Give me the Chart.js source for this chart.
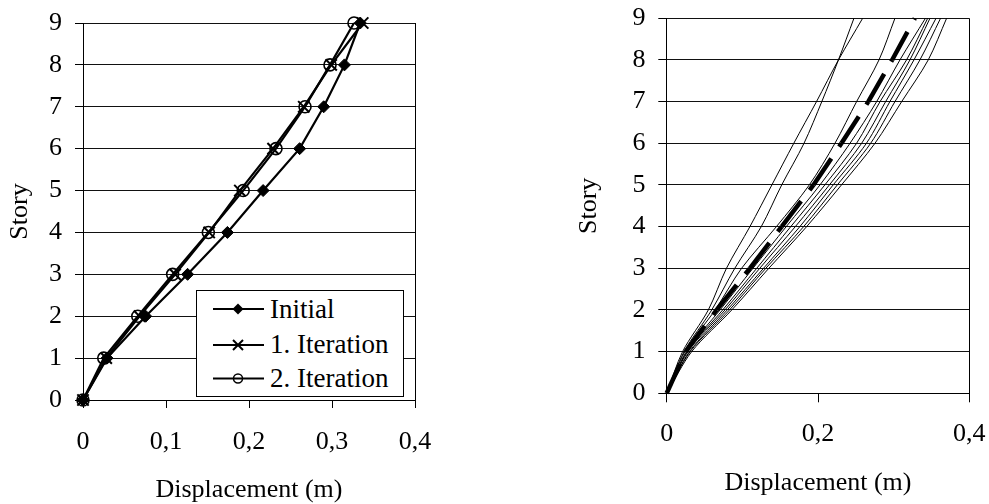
<!DOCTYPE html>
<html><head><meta charset="utf-8">
<script src="https://cdn.jsdelivr.net/npm/chart.js@4.4.1/dist/chart.umd.min.js"></script>
<style>
html,body{margin:0;padding:0;background:#fff;}
body{width:989px;height:504px;position:relative;overflow:hidden;}
#c1{position:absolute;left:0;top:0;}
#c2{position:absolute;left:569px;top:0;}
#legend{position:absolute;left:0;top:0;pointer-events:none;}
</style></head><body>
<canvas id="c1" width="480" height="504"></canvas>
<canvas id="c2" width="420" height="504"></canvas>
<svg id="legend" width="989" height="504">
  <rect x="196.5" y="290.5" width="207" height="106" fill="#fff" stroke="#000" stroke-width="1"/>
  <line x1="213" y1="309" x2="264" y2="309" stroke="#000" stroke-width="2"/>
  <polygon points="238,303.5 243.5,309 238,314.5 232.5,309" fill="#000"/>
  <text x="270" y="318.3" font-family="'Liberation Serif','Times New Roman',serif" font-size="27" fill="#000">Initial</text>
  <line x1="213" y1="345" x2="264" y2="345" stroke="#000" stroke-width="2"/>
  <line x1="233" y1="340" x2="243" y2="350" stroke="#000" stroke-width="2"/>
  <line x1="233" y1="350" x2="243" y2="340" stroke="#000" stroke-width="2"/>
  <text x="270" y="352.7" font-family="'Liberation Serif','Times New Roman',serif" font-size="27" fill="#000">1. Iteration</text>
  <line x1="213" y1="378.5" x2="264" y2="378.5" stroke="#000" stroke-width="2"/>
  <circle cx="238" cy="378.5" r="4.5" fill="none" stroke="#000" stroke-width="1.5"/>
  <text x="270" y="387.3" font-family="'Liberation Serif','Times New Roman',serif" font-size="27" fill="#000">2. Iteration</text>
</svg>
<script>
// ---- data ----
const stories = [0, 1, 2, 3, 4, 5, 6, 7, 8, 9];
const initialDisp = [0, 0.029, 0.0755, 0.126, 0.174, 0.217, 0.261, 0.290, 0.315, 0.334];
const iter1Disp   = [0, 0.028, 0.068, 0.111, 0.152, 0.189, 0.229, 0.266, 0.299, 0.337];
const iter2Disp   = [0, 0.025, 0.066, 0.108, 0.151, 0.193, 0.2325, 0.2675, 0.2976, 0.3265];

const meanDisp = [0, 0.025, 0.066, 0.110, 0.152, 0.194, 0.231, 0.2665, 0.298, 0.328];
const recP = [0, 0.021, 0.055, 0.079, 0.110, 0.139, 0.168, 0.198, 0.227, 0.259];
const recQ = [0, 0.023, 0.0595, 0.090, 0.125, 0.152, 0.1815, 0.205, 0.227, 0.2475];
const recC = [0, 0.024, 0.064, 0.099, 0.145, 0.1885, 0.2224, 0.251, 0.2806, 0.3017];
const recD = [0, 0.026, 0.0705, 0.114, 0.158, 0.2026, 0.2423, 0.2775, 0.3083, 0.342];
const recE = [0, 0.027, 0.074, 0.119, 0.164, 0.209, 0.251, 0.282, 0.317, 0.345];
const recF = [0, 0.028, 0.077, 0.123, 0.170, 0.215, 0.2577, 0.2894, 0.3215, 0.348];
const recG = [0, 0.030, 0.080, 0.128, 0.176, 0.220, 0.264, 0.295, 0.3268, 0.356];
const recH = [0, 0.031, 0.083, 0.131, 0.181, 0.2255, 0.2696, 0.3017, 0.3347, 0.362];
const recI = [0, 0.033, 0.086, 0.135, 0.185, 0.231, 0.2753, 0.3106, 0.3457, 0.370];
const records = [recP, recQ, recC, recD, recE, recF, recG, recH, recI];

const yTicks = [0, 1, 2, 3, 4, 5, 6, 7, 8, 9];
const yLabels = ['0', '1', '2', '3', '4', '5', '6', '7', '8', '9'];
const leftXTicks = [0, 0.1, 0.2, 0.3, 0.4];
const leftXLabels = ['0', '0,1', '0,2', '0,3', '0,4'];
const rightXTicks = [0, 0.2, 0.4];
const rightXLabels = ['0', '0,2', '0,4'];

// ---- setup ----
const serif = "'Liberation Serif', 'Times New Roman', serif";
Chart.defaults.font.family = serif;
Chart.defaults.color = '#000';
const toPts = arr => arr.map((x, i) => ({x: x, y: stories[i]}));
const noPad = s => { s.paddingTop = 0; s.paddingBottom = 0; s.paddingLeft = 0; s.paddingRight = 0; };

function xScale(ticksArr, labelsArr, tickLen, pad, titlePad, height) {
  return {
    type: 'linear', min: 0, max: 0.4,
    afterBuildTicks: s => { s.ticks = ticksArr.map(v => ({value: v})); },
    ticks: { callback: (v, i) => labelsArr[i], font: {size: 26, lineHeight: 1}, color: '#000',
             padding: pad, maxRotation: 0, autoSkip: false },
    grid: { color: c => (c.tick && Math.abs(c.tick.value - 0.4) < 1e-9) ? '#000' : 'rgba(0,0,0,0)',
            tickColor: '#000', tickLength: tickLen, lineWidth: 1 },
    border: { display: true, color: '#000', width: 1 },
    title: { display: true, text: 'Displacement (m)', font: {size: 26, lineHeight: 1}, color: '#000',
             padding: {top: 0, bottom: titlePad} },
    afterFit: s => { s.height = height; noPad(s); }
  };
}
function yScale(tickLen, pad, width) {
  return {
    type: 'linear', min: 0, max: 9,
    afterBuildTicks: s => { s.ticks = yTicks.map(v => ({value: v})); },
    ticks: { callback: (v, i) => yLabels[i], font: {size: 26}, color: '#000', padding: pad, autoSkip: false },
    grid: { color: '#111', tickColor: '#000', tickLength: tickLen, lineWidth: 1 },
    border: { display: true, color: '#000', width: 1 },
    title: { display: true, text: 'Story', font: {size: 26, lineHeight: 1}, color: '#000',
             padding: {top: 7, bottom: 0} },
    afterFit: s => { s.width = width; noPad(s); }
  };
}

new Chart(document.getElementById('c1'), {
  type: 'scatter',
  data: { datasets: [
    { label: 'Initial', data: toPts(initialDisp), showLine: true, borderColor: '#000', backgroundColor: '#000',
      borderWidth: 2.2, pointStyle: 'rectRot', pointRadius: 6, pointBorderWidth: 1,
      pointBackgroundColor: '#000', pointBorderColor: '#000', clip: false },
    { label: '1. Iteration', data: toPts(iter1Disp), showLine: true, borderColor: '#000', backgroundColor: '#000',
      borderWidth: 2.2, pointStyle: 'crossRot', pointRadius: 8, pointBorderWidth: 2,
      pointBorderColor: '#000', clip: false },
    { label: '2. Iteration', data: toPts(iter2Disp), showLine: true, borderColor: '#000', backgroundColor: 'rgba(0,0,0,0)',
      borderWidth: 2.2, pointStyle: 'circle', pointRadius: 6, pointBorderWidth: 1.6,
      pointBackgroundColor: 'rgba(0,0,0,0)', pointBorderColor: '#000', clip: false }
  ]},
  options: {
    responsive: false, animation: false, devicePixelRatio: 1,
    layout: { padding: {left: 0, top: 23, right: 65, bottom: 0} },
    plugins: { legend: {display: false}, tooltip: {enabled: false} },
    scales: { x: xScale(leftXTicks, leftXLabels, 8, 21, 1, 104), y: yScale(8, 13, 83) }
  }
});

const rightSets = [
  { label: 'Mean', data: toPts(meanDisp), showLine: true, borderColor: '#000', borderWidth: 4.5,
    borderDash: [32, 14], borderCapStyle: 'butt', pointRadius: 0, clip: false,
    segment: { borderDashOffset: c => c.p0DataIndex * 0.001 } }
];
records.forEach((r, k) => rightSets.push({
  label: 'Record ' + (k + 1), data: toPts(r), showLine: true, borderColor: '#000', borderWidth: 1,
  pointRadius: 0, tension: 0.3, clip: false
}));

new Chart(document.getElementById('c2'), {
  type: 'scatter',
  data: { datasets: rightSets },
  options: {
    responsive: false, animation: false, devicePixelRatio: 1,
    layout: { padding: {left: 0, top: 18.3, right: 19.7, bottom: 0} },
    plugins: { legend: {display: false}, tooltip: {enabled: false} },
    scales: { x: xScale(rightXTicks, rightXLabels, 9, 19, 8, 110.7), y: yScale(8.4, 12.7, 97.7) }
  }
});
</script>
</body></html>
